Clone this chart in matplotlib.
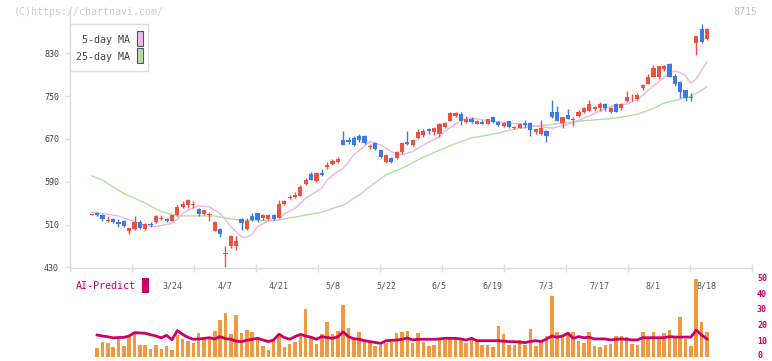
import numpy as np
import matplotlib
matplotlib.use("Agg")
import matplotlib.pyplot as plt
from matplotlib.patches import Rectangle
import matplotlib.transforms as mtransforms

plt.rcParams['font.family'] = ['DejaVu Sans Mono', 'DejaVu Sans']

############## Price data (one entry per trading day) ##############
opens = [528, 532, 528, 517, 520, 514, 516, 498, 502, 515, 502, 511, 514, 520, 521, 517,
         527, 542, 546, 546, 539, 530, 527, 498, 501, 454, 469, 470, 521, 502, 525, 532,
         523, 520, 528, 523, 548, 560, 561, 564, 585, 605, 592, 607, 618, 623, 626, 668,
         667, 672, 675, 675, 654, 662, 649, 626, 635, 634, 646, 665, 659, 672, 677, 688,
         682, 680, 693, 704, 712, 717, 702, 708, 698, 702, 698, 710, 702, 694, 703, 690,
         691, 699, 700, 682, 679, 685, 721, 720, 700, 715, 706, 712, 721, 723, 725, 727,
         735, 721, 735, 728, 740, 744, 744, 766, 773, 786, 786, 800, 810, 788, 777, 761,
         748, 849, 875, 857]
highs = [530, 534, 529, 525, 522, 520, 518, 504, 526, 518, 512, 514, 527, 528, 523, 528,
         546, 554, 557, 553, 541, 538, 534, 516, 504, 470, 491, 488, 522, 522, 531, 532,
         530, 529, 529, 556, 556, 565, 571, 584, 596, 609, 609, 613, 626, 633, 636, 685,
         674, 675, 679, 677, 660, 664, 650, 641, 637, 648, 664, 685, 670, 688, 688, 691,
         692, 699, 702, 721, 721, 720, 712, 710, 706, 705, 708, 713, 704, 701, 704, 694,
         700, 705, 702, 689, 706, 686, 743, 732, 711, 726, 710, 724, 729, 743, 731, 739,
         738, 729, 738, 738, 760, 753, 756, 773, 792, 808, 807, 809, 811, 792, 778, 762,
         755, 863, 885, 878]
lows = [527, 526, 517, 515, 513, 506, 506, 492, 500, 501, 500, 506, 513, 518, 515, 516,
        526, 540, 541, 541, 526, 528, 517, 497, 486, 430, 467, 462, 500, 500, 517, 515,
        519, 518, 518, 522, 547, 558, 560, 563, 584, 593, 590, 601, 613, 621, 625, 658,
        660, 656, 665, 660, 652, 650, 635, 625, 625, 633, 641, 659, 657, 669, 674, 680,
        678, 674, 690, 703, 710, 696, 700, 700, 697, 697, 697, 700, 695, 693, 691, 688,
        690, 691, 675, 680, 678, 665, 709, 703, 690, 707, 694, 711, 719, 722, 723, 723,
        723, 719, 720, 724, 739, 740, 743, 762, 772, 785, 782, 797, 785, 769, 747, 740,
        740, 827, 850, 855]
closes = [529, 528, 520, 519, 515, 511, 508, 503, 515, 503, 511, 509, 526, 523, 517, 527,
          543, 548, 556, 548, 530, 537, 529, 515, 492, 457, 489, 480, 512, 517, 518, 518,
          528, 528, 520, 548, 554, 561, 565, 581, 594, 594, 606, 603, 622, 629, 632, 659,
          665, 659, 667, 663, 656, 651, 636, 640, 627, 646, 663, 660, 667, 682, 685, 685,
          690, 697, 699, 719, 718, 704, 707, 702, 703, 698, 707, 701, 696, 700, 692, 691,
          698, 696, 687, 688, 691, 676, 710, 704, 710, 708, 708, 721, 727, 735, 730, 735,
          727, 728, 721, 735, 749, 745, 752, 771, 785, 802, 806, 806, 786, 773, 758, 746,
          746, 862, 852, 875]

# moving averages (day index, value)
ma5_idx = [0, 5, 7, 10, 12, 15, 16, 17, 18, 20, 22, 24, 26, 28, 29, 30, 31, 33, 35, 36,
           38, 40, 43, 44, 46, 47, 49, 52, 54, 56, 58, 60, 62, 65, 66, 69, 71, 74, 76, 79,
           82, 84, 86, 89, 91, 93, 96, 98, 100, 102, 104, 106, 108, 109, 110, 111, 112,
           113, 114, 115]
ma5_val = [533, 526, 519, 508, 506, 512, 520, 530, 537, 545, 543, 531, 506, 487, 486, 492,
           506, 517, 518, 530, 540, 559, 578, 593, 609, 615, 640, 665, 659, 646, 640, 646,
           659, 674, 684, 705, 709, 704, 702, 699, 695, 693, 690, 697, 705, 713, 727, 733,
           735, 743, 761, 777, 793, 797, 794, 788, 774, 782, 798, 814]
ma25_idx = [0, 2, 6, 10, 13, 16, 23, 25, 28, 34, 38, 43, 45, 47, 50, 52, 55, 58, 61, 65,
            69, 71, 74, 76, 79, 82, 87, 92, 96, 98, 102, 105, 107, 110, 112, 114, 115]
ma25_val = [601, 593, 568, 550, 534, 526, 526, 522, 518, 517, 524, 533, 540, 546, 565, 581,
            603, 615, 631, 649, 665, 672, 677, 681, 688, 693, 698, 704, 707, 709, 716, 727,
            737, 744, 750, 761, 768]

############## Volume panel (days 1..115) ##############
volume = [6.1, 9.9, 9.1, 6.7, 11.6, 7.3, 12.6, 14.7, 7.8, 7.8, 5.3, 7.8, 5.3, 7.2, 4.8,
          14.1, 11.6, 10.5, 9.3, 15.6, 11.6, 12.4, 16.8, 23.6, 28.2, 14.9, 26.8, 15.6, 17.3,
          16.2, 10.9, 7.2, 4.8, 10.7, 13.5, 6.5, 8.6, 9.9, 13.5, 30.6, 12.7, 8.4, 14.7, 22.3,
          14.7, 16.6, 33.1, 18.5, 11.6, 15.9, 10.9, 9.7, 7.2, 7.8, 9.1, 9.7, 15.5, 15.9, 16.6,
          9.1, 15.5, 9.7, 7.2, 7.8, 10.9, 10.9, 11.6, 11.6, 11.6, 9.1, 12.9, 9.7, 7.8, 7.8,
          6.5, 19.8, 14.7, 7.8, 7.8, 10.9, 7.8, 17.9, 7.2, 10.9, 13.5, 38.8, 16.2, 13.5, 16.2,
          16.2, 10.3, 8.9, 16.2, 7.2, 6.3, 7.7, 8.6, 13.5, 13.5, 13.1, 8.4, 7.7, 16.2, 13.1,
          16.2, 13.1, 15.2, 17.2, 12.4, 25.3, 11.6, 7.2, 49.6, 22.5, 16.0]
ai_predict = [14.1, 13.5, 13.0, 12.3, 12.5, 12.6, 13.5, 15.6, 15.4, 15.2, 14.3, 13.5, 12.3,
              13.9, 11.1, 16.9, 14.5, 12.6, 11.4, 11.6, 12.0, 12.4, 11.6, 13.1, 11.8, 11.4,
              10.2, 9.9, 10.8, 11.4, 12.0, 11.0, 9.9, 11.0, 14.6, 12.5, 11.4, 13.1, 14.5, 13.5,
              12.7, 11.4, 13.1, 12.5, 12.0, 13.0, 16.1, 13.0, 11.8, 11.4, 10.5, 9.9, 9.4, 8.8,
              10.5, 10.7, 10.9, 11.4, 12.2, 11.0, 11.4, 11.4, 11.4, 11.4, 11.6, 12.0, 12.0,
              12.0, 11.6, 10.9, 12.0, 10.5, 10.5, 10.5, 10.5, 10.5, 10.2, 9.9, 9.9, 9.6, 9.3,
              10.0, 10.5, 10.0, 11.5, 13.5, 12.7, 13.5, 15.2, 12.0, 13.1, 12.4, 12.7, 11.6,
              11.6, 11.6, 11.0, 11.4, 11.6, 11.4, 11.0, 11.0, 12.4, 12.4, 12.4, 12.4, 12.4,
              13.1, 12.8, 12.8, 12.8, 12.8, 17.2, 14.1, 11.6]
vol_ticks = [0, 10, 20, 30, 40, 50]

date_labels = ['3/24', '4/7', '4/21', '5/8', '5/22', '6/5', '6/19', '7/3', '7/17', '8/1', '8/18']
date_idx = [15, 25, 35, 45, 55, 65, 75, 85, 95, 105, 115]

############## Layout helpers (pixel -> figure fraction) ##############
W, H = 772, 361
def fx(px):
    return px / W
def fy(py):
    return 1 - py / H

UP = '#ef5040'
DOWN = '#3d7ae6'
GRID = '#dddddd'
MAG = '#cc0066'

fig = plt.figure(figsize=(W / 100, H / 100), dpi=100)
ax = fig.add_axes([fx(70), fy(268), fx(752) - fx(70), fy(10) - fy(268)])
axv = fig.add_axes([fx(70), fy(357.3), fx(752) - fx(70), fy(278.3) - fy(357.3)])

xmin, xmax = -4.06, 123.42

############## Candles ##############
n = len(closes)
days = np.arange(n)
ax.plot(ma25_idx, ma25_val, color='#b6dca4', lw=1.0, zorder=1)
ax.plot(ma5_idx, ma5_val, color='#e8b6ea', lw=1.0, zorder=1)
for i in range(n):
    o, h, l, c = opens[i], highs[i], lows[i], closes[i]
    col = UP if c >= o else DOWN
    ax.vlines(i, l, h, color=col, lw=1.0, zorder=2)
    body = max(abs(c - o), 1.6)
    ax.bar(i, body, bottom=min(o, c) - (body - abs(c - o)) / 2, width=0.78,
           color=col, linewidth=0, zorder=3)

ax.set_xlim(xmin, xmax)
ax.set_ylim(428.7, 910.9)
ax.set_yticks([430, 510, 590, 670, 750, 830])
ax.set_xticks(np.linspace(xmin, xmax, 12))
ax.set_xticklabels([])
ax.tick_params(axis='y', length=3.6, width=1, color=GRID, labelsize=6,
               labelcolor='#444444', pad=4.3)
ax.tick_params(axis='x', direction='inout', length=6, width=1, color=GRID)
for s in ['top', 'right']:
    ax.spines[s].set_visible(False)
for s in ['left', 'bottom']:
    ax.spines[s].set_color(GRID)
    ax.spines[s].set_linewidth(1)

############## Volume + AI-Predict ##############
axv.bar(days[1:], volume, width=0.66, color='#f2983f', linewidth=0, zorder=2)
axv.plot(days[1:], ai_predict, color=MAG, lw=2.0, zorder=3)
axv.set_xlim(xmin, xmax)
axv.set_ylim(0, 50)
axv.set_xticks([])
axv.set_yticks([])
for s in axv.spines.values():
    s.set_visible(False)
axv.patch.set_alpha(0)

# right-hand volume scale, drawn as text so the bottom "0" stays inside the figure
rtrans = mtransforms.blended_transform_factory(axv.transAxes, axv.transData)
for v in vol_ticks:
    axv.text(1 + 5 / 682, max(v, 1.2), str(v), transform=rtrans, ha='left', va='center',
             fontsize=6, color=MAG, fontweight='bold', clip_on=False)

trans = mtransforms.blended_transform_factory(axv.transData, axv.transAxes)
for d, lab in zip(date_idx, date_labels):
    axv.text(d, (357.3 - 286) / 79, lab, transform=trans, ha='center', va='center',
             fontsize=6, color='#555555', zorder=1)

############## Legend, captions ##############
fig.add_artist(Rectangle((fx(70), fy(71)), fx(148) - fx(70), fy(24) - fy(71),
                         transform=fig.transFigure, facecolor='white', edgecolor=GRID, lw=1))
fig.text(fx(130), fy(40), '5-day MA', ha='right', va='center', fontsize=7.2, color='#444444')
fig.text(fx(130), fy(56.5), '25-day MA', ha='right', va='center', fontsize=7.2, color='#444444')
fig.add_artist(Rectangle((fx(137), fy(46)), fx(142.5) - fx(137), fy(31) - fy(46),
                         transform=fig.transFigure, facecolor='#eebbee', edgecolor='#555555', lw=0.8))
fig.add_artist(Rectangle((fx(137), fy(63)), fx(142.5) - fx(137), fy(48) - fy(63),
                         transform=fig.transFigure, facecolor='#bbddaa', edgecolor='#555555', lw=0.8))

fig.text(fx(76), fy(286), 'AI-Predict', ha='left', va='center', fontsize=7.2, color=MAG)
fig.add_artist(Rectangle((fx(142), fy(293)), fx(149) - fx(142), fy(277.5) - fy(293),
                         transform=fig.transFigure, facecolor=MAG, edgecolor='none'))

fig.text(fx(14), fy(12), '(C)https://chartnavi.com/', ha='left', va='center',
         fontsize=7.2, color='#cccccc')
fig.text(fx(757), fy(12), '8715', ha='right', va='center', fontsize=7.2, color='#c4c4c4')

fig.savefig('out.png', dpi=100)
